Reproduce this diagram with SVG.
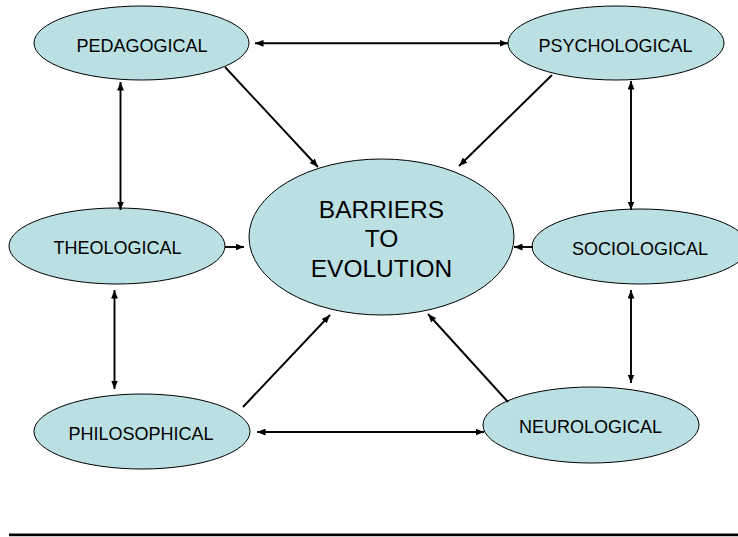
<svg xmlns="http://www.w3.org/2000/svg" width="738" height="537" viewBox="0 0 738 537">
<defs>
<marker id="ah" viewBox="0 0 10 8" refX="10" refY="4" markerWidth="8.5" markerHeight="7" markerUnits="userSpaceOnUse" orient="auto-start-reverse">
<path d="M0,0 L10,4 L0,8 Z" fill="#000"/>
</marker>
<style>
.n{fill:#BBE0E3;stroke:#000;stroke-width:1}
.t{font-family:"Liberation Sans",Arial,sans-serif;font-size:18px;fill:#000;text-anchor:middle}
.b{font-family:"Liberation Sans",Arial,sans-serif;font-size:24.5px;fill:#000;text-anchor:middle}
.c line{stroke:#000;stroke-width:1.9;fill:none}
</style>
</defs>
<rect width="738" height="537" fill="#fff"/>
<g id="n-barriers">
<ellipse class="n" cx="381.5" cy="237" rx="132.5" ry="78"/>
<text class="b" x="381.5" y="218">BARRIERS</text>
<text class="b" x="381.5" y="247">TO</text>
<text class="b" x="381.5" y="277">EVOLUTION</text>
</g>
<g id="n-pedagogical">
<ellipse class="n" cx="141.5" cy="43" rx="107.5" ry="37"/>
<text class="t" x="142" y="52">PEDAGOGICAL</text>
</g>
<g id="n-psychological">
<ellipse class="n" cx="616" cy="43" rx="108" ry="37"/>
<text class="t" x="615.5" y="52">PSYCHOLOGICAL</text>
</g>
<g id="n-theological">
<ellipse class="n" cx="117" cy="246" rx="108" ry="38"/>
<text class="t" x="117.5" y="254">THEOLOGICAL</text>
</g>
<g id="n-sociological">
<ellipse class="n" cx="640" cy="246.5" rx="108" ry="37.5"/>
<text class="t" x="640" y="255">SOCIOLOGICAL</text>
</g>
<g id="n-philosophical">
<ellipse class="n" cx="142" cy="431.5" rx="108" ry="37.5"/>
<text class="t" x="141" y="440">PHILOSOPHICAL</text>
</g>
<g id="n-neurological">
<ellipse class="n" cx="591" cy="425" rx="108" ry="38"/>
<text class="t" x="590.5" y="433">NEUROLOGICAL</text>
</g>
<g id="connectors" class="c">
<line x1="255" y1="43.3" x2="508" y2="43.3" marker-start="url(#ah)" marker-end="url(#ah)"/>
<line x1="225" y1="67" x2="318" y2="167" marker-end="url(#ah)"/>
<line x1="552" y1="75" x2="459" y2="166" marker-end="url(#ah)"/>
<line x1="120.5" y1="82" x2="120.5" y2="210" marker-start="url(#ah)" marker-end="url(#ah)"/>
<line x1="631" y1="81" x2="631" y2="210" marker-start="url(#ah)" marker-end="url(#ah)"/>
<line x1="225" y1="247" x2="244" y2="247" marker-end="url(#ah)"/>
<line x1="533" y1="247" x2="514" y2="247" marker-end="url(#ah)"/>
<line x1="114.5" y1="290" x2="114.5" y2="389" marker-start="url(#ah)" marker-end="url(#ah)"/>
<line x1="631" y1="290" x2="631" y2="383" marker-start="url(#ah)" marker-end="url(#ah)"/>
<line x1="243" y1="407" x2="330" y2="315" marker-end="url(#ah)"/>
<line x1="508" y1="402" x2="428" y2="314" marker-end="url(#ah)"/>
<line x1="257" y1="432" x2="484" y2="432" marker-start="url(#ah)" marker-end="url(#ah)"/>
</g>
<rect x="9" y="533.5" width="729" height="2.7" fill="#000"/>
</svg>
